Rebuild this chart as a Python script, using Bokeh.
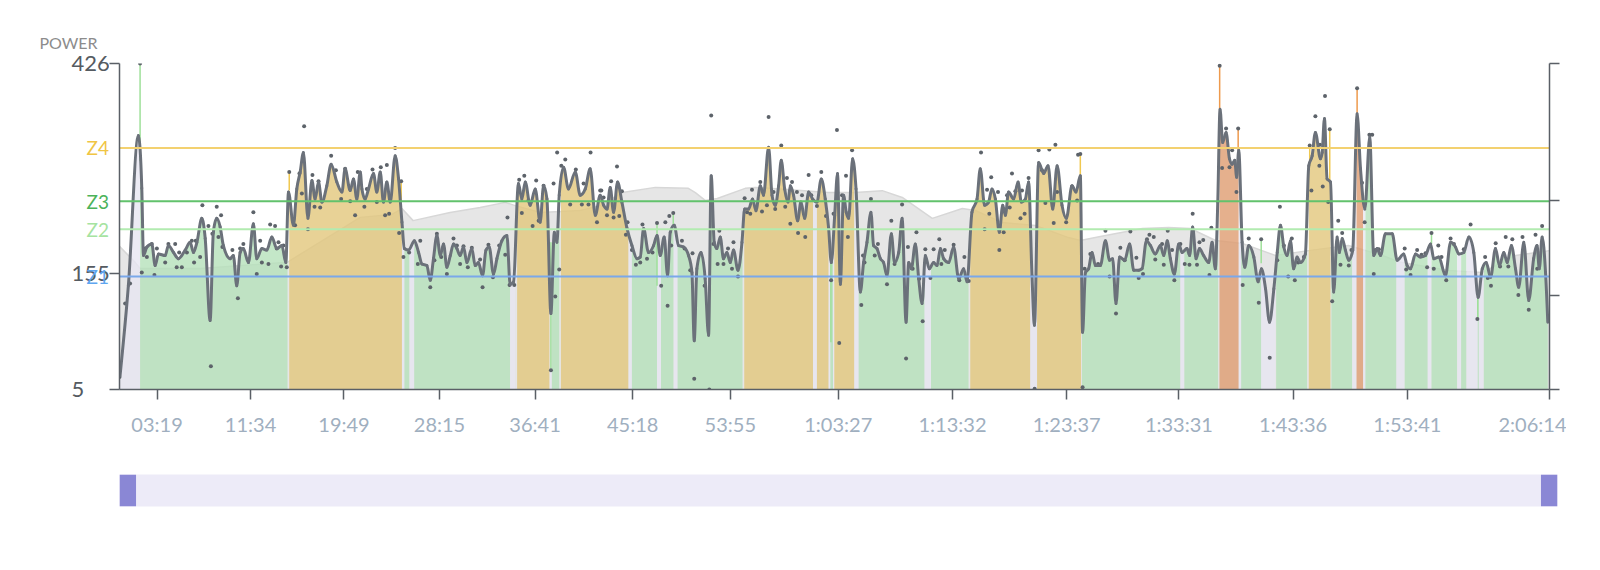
import numpy as np
from bokeh.plotting import figure
from bokeh.models import Range1d, LinearAxis, FixedTicker, BoxAnnotation, Span
from bokeh.layouts import column, row
from bokeh.core.properties import value
from bokeh.embed import file_html
from bokeh.resources import INLINE

# ---------------- data ----------------
line_t = [3, 47, 100, 118, 127, 145, 171, 189, 206, 242, 259, 286, 312, 348, 374, 392, 410, 436, 454, 480, 497, 515, 533, 550, 586, 603, 621, 639, 656, 683, 709, 727, 754, 780, 807, 833, 860, 881, 895, 921, 939, 957, 974, 998, 1019, 1036, 1054, 1072, 1098, 1121, 1151, 1178, 1195, 1222, 1239, 1257, 1275,
          1284, 1301, 1319, 1345, 1363, 1381, 1398, 1416, 1434, 1460, 1478, 1496, 1509, 1531, 1562, 1584, 1602, 1628, 1646, 1663, 1681, 1699, 1716, 1734, 1752, 1769, 1787, 1804, 1822, 1840, 1866, 1884, 1901, 1923, 1941, 1958, 1981, 1999, 2025, 2052, 2069, 2087, 2113, 2131, 2149, 2175, 2202, 2228, 2246, 2264, 2285, 2303, 2317, 2329, 2352, 2378, 2414, 2440, 2467, 2493, 2520, 2546,
          2564, 2582, 2599, 2617, 2638, 2661, 2688, 2714, 2741, 2758, 2776, 2802, 2829, 2847, 2864, 2885, 2903, 2917, 2938, 2961, 2988, 3014, 3032, 3044, 3058, 3080, 3102, 3120, 3134, 3150, 3164, 3182, 3199, 3217, 3235, 3252, 3276, 3297, 3311, 3332, 3353, 3371, 3394, 3411, 3438, 3456, 3473, 3491, 3505, 3523, 3541, 3553, 3570, 3592, 3609, 3629, 3650, 3671, 3694, 3717, 3738, 3756, 3770, 3788, 3803, 3818,
          3835, 3849, 3862, 3883, 3901, 3924, 3941, 3959, 3980, 3994, 4012, 4030, 4047, 4065, 4088, 4105, 4127, 4145, 4166, 4180, 4194, 4215, 4233, 4251, 4268, 4289, 4312, 4330, 4348, 4365, 4392, 4418, 4445, 4471, 4489, 4515, 4542, 4559, 4582, 4603, 4621, 4639, 4660, 4678, 4692, 4709, 4736, 4759, 4777, 4798, 4815, 4833, 4846, 4868, 4895, 4918, 4943, 4966, 4992, 5015, 5045, 5066, 5089,
          5101, 5116, 5133, 5151, 5169, 5195, 5222, 5244, 5260, 5278, 5297, 5324, 5350, 5372, 5398, 5416, 5439, 5460, 5486, 5513, 5531, 5549, 5566, 5587, 5610, 5628, 5654, 5668, 5684, 5702, 5720, 5742, 5769, 5787, 5804, 5817, 5829, 5843, 5861, 5879, 5893, 5907, 5917, 5928, 5946, 5960, 5981, 6008, 6031, 6048, 6070, 6091, 6114, 6132, 6149, 6167, 6184, 6202, 6219, 6237, 6255, 6281, 6299, 6317, 6334, 6361,
          6370, 6382, 6396, 6414, 6431, 6449, 6461, 6476, 6493, 6511, 6532, 6555, 6573, 6596, 6622, 6643, 6661, 6679, 6705, 6741, 6767, 6802, 6820, 6838, 6864, 6891, 6917, 6944, 6961, 6988, 7023, 7050, 7076, 7094, 7120, 7147, 7173, 7196, 7218, 7239, 7262, 7288, 7309, 7332, 7350, 7372, 7394, 7411, 7438, 7464, 7490, 7508, 7520, 7535, 7553, 7565]
line_p = [23, 139, 333, 265, 178, 189, 193, 165, 180, 178, 191, 182, 174, 185, 195, 182, 195, 226, 200, 94, 208, 226, 215, 191, 174, 178, 139, 182, 187, 169, 219, 174, 187, 185, 202, 187, 191, 169, 260, 217, 264, 286, 311, 226, 275, 251, 273, 247, 268, 296, 273, 260, 290, 262, 277, 251, 286,
          264, 251, 264, 284, 260, 286, 247, 273, 247, 307, 277, 221, 187, 185, 197, 182, 167, 165, 146, 174, 204, 178, 193, 163, 178, 193, 187, 178, 189, 169, 187, 165, 169, 152, 185, 189, 154, 174, 197, 204, 141, 144, 271, 251, 273, 243, 264, 221, 268, 251, 103, 208, 195, 256, 292, 264, 286, 256, 264, 290, 230, 256,
          243, 238, 266, 234, 273, 247, 213, 191, 174, 176, 213, 182, 191, 204, 178, 202, 152, 208, 217, 191, 189, 178, 156, 68, 161, 182, 148, 75, 281, 195, 187, 202, 174, 182, 169, 185, 159, 195, 238, 238, 251, 236, 268, 256, 318, 256, 243, 268, 301, 264, 247, 268, 256, 223, 247, 226, 260, 251, 247, 277, 251, 213, 169, 230, 284, 141,
          256, 234, 226, 303, 264, 131, 169, 195, 234, 191, 187, 174, 169, 152, 206, 169, 182, 226, 92, 169, 161, 193, 148, 116, 178, 161, 169, 165, 187, 174, 169, 189, 148, 161, 144, 234, 251, 290, 243, 247, 264, 251, 208, 243, 230, 260, 251, 273, 247, 251, 273, 152, 88, 298, 284, 294, 238, 294, 243, 226, 268, 260, 281,
          79, 156, 161, 182, 165, 165, 197, 172, 174, 116, 176, 172, 193, 159, 159, 161, 197, 191, 180, 191, 178, 197, 174, 154, 193, 182, 187, 178, 215, 174, 187, 178, 169, 195, 161, 247, 367, 324, 337, 303, 296, 301, 279, 314, 195, 163, 191, 176, 144, 161, 135, 92, 135, 182, 217, 189, 178, 197, 161, 176, 169, 180, 294, 307, 337, 303,
          311, 355, 277, 273, 131, 202, 182, 200, 185, 172, 185, 361, 290, 238, 331, 178, 187, 178, 206, 206, 172, 180, 165, 161, 180, 176, 178, 193, 174, 176, 152, 195, 189, 180, 182, 202, 182, 124, 161, 169, 150, 187, 165, 182, 169, 191, 161, 137, 195, 120, 174, 191, 161, 202, 156, 92]

dot_t = [0, 30, 56, 109, 118, 136, 145, 171, 185, 198, 242, 259, 295, 303, 316, 330, 357, 383, 395, 404, 427, 439, 471, 484, 492, 515, 524, 538, 545, 598, 627, 639, 656, 709, 727, 745, 754, 789, 798, 824, 833, 842, 856, 868, 886, 899, 930, 953, 966, 978, 998, 1022, 1033, 1054, 1063, 1121, 1146, 1174, 1195, 1222, 1248, 1262,
         1297, 1310, 1340, 1363, 1384, 1407, 1416, 1428, 1460, 1492, 1481, 1504, 1534, 1580, 1593, 1646, 1668, 1681, 1704, 1734, 1769, 1787, 1804, 1822, 1845, 1866, 1910, 1923, 1954, 1978, 2011, 2043, 2055, 2066, 2091, 2117, 2131, 2144, 2166, 2188, 2207, 2220, 2246, 2285, 2308, 2299, 2318, 2329, 2340, 2361, 2387, 2417, 2449, 2458, 2484, 2495, 2529, 2546,
         2552, 2564, 2582, 2604, 2617, 2635, 2647, 2661, 2682, 2691, 2714, 2735, 2758, 2770, 2794, 2823, 2847, 2869, 2891, 2903, 2912, 2922, 2933, 2979, 2993, 3035, 3023, 3044, 3099, 3124, 3134, 3146, 3177, 3168, 3199, 3223, 3244, 3252, 3276, 3311, 3324, 3341, 3350, 3394, 3403, 3429, 3438, 3464, 3473, 3505, 3526, 3535, 3553, 3562, 3588, 3594, 3615, 3632, 3650, 3664, 3694, 3717, 3742, 3769, 3782, 3800, 3812,
         3827, 3848, 3858, 3880, 3929, 3938, 3946, 3980, 4000, 4017, 4065, 4088, 4105, 4145, 4166, 4176, 4201, 4221, 4236, 4254, 4268, 4295, 4312, 4342, 4353, 4371, 4418, 4448, 4475, 4498, 4563, 4582, 4595, 4607, 4617, 4653, 4660, 4683, 4701, 4715, 4727, 4745, 4772, 4780, 4794, 4815, 4847, 4868, 4886, 4904, 4925, 4948, 4957, 4966, 5014, 5045, 5077,
         5089, 5072, 5101, 5112, 5142, 5183, 5222, 5244, 5278, 5301, 5324, 5354, 5386, 5398, 5421, 5442, 5455, 5478, 5486, 5522, 5531, 5552, 5575, 5587, 5619, 5642, 5667, 5684, 5707, 5720, 5740, 5773, 5783, 5827, 5840, 5861, 5879, 5893, 5916, 5925, 5949, 5981, 6034, 6047, 6092, 6132, 6146, 6167, 6190, 6209, 6225, 6243, 6273, 6304, 6313, 6334,
         6358, 6385, 6355, 6373, 6410, 6402, 6423, 6455, 6467, 6476, 6511, 6525, 6555, 6581, 6595, 6620, 6635, 6643, 6652, 6670, 6807, 6815, 6838, 6873, 6896, 6917, 6926, 6949, 6961, 6985, 7002, 7027, 7050, 7068, 7120, 7156, 7192, 7233, 7247, 7264, 7289, 7312, 7342, 7356, 7377, 7409, 7431, 7464, 7500, 7509, 7535]
dot_p = [21, 116, 142, 426, 156, 187, 176, 193, 153, 187, 169, 193, 193, 163, 182, 163, 182, 197, 169, 197, 176, 243, 216, 35, 206, 241, 202, 230, 189, 185, 123, 187, 193, 234, 154, 197, 169, 167, 218, 216, 187, 195, 164, 191, 163, 286, 217, 284, 258, 345, 212, 282, 241, 274, 240, 307, 288, 251, 290, 248, 230, 286,
         241, 264, 289, 247, 292, 230, 295, 232, 317, 274, 207, 176, 182, 167, 197, 137, 172, 206, 176, 154, 200, 191, 167, 190, 163, 188, 173, 137, 192, 150, 191, 179, 227, 140, 140, 276, 233, 281, 249, 216, 275, 223, 268, 30, 125, 271, 311, 160, 294, 302, 244, 289, 244, 271, 244, 311, 221, 262,
         262, 253, 230, 274, 227, 293, 229, 261, 205, 221, 185, 166, 169, 218, 174, 182, 220, 139, 221, 113, 229, 191, 233, 197, 187, 181, 159, 19, 139, 5, 359, 193, 210, 167, 167, 187, 161, 195, 151, 252, 234, 232, 263, 273, 235, 243, 357, 260, 238, 320, 241, 278, 219, 273, 260, 207, 256, 202, 282, 256, 242, 286, 229, 146, 232, 340, 65,
         256, 281, 202, 314, 114, 178, 169, 251, 178, 193, 141, 223, 167, 244, 45, 189, 161, 208, 148, 93, 186, 149, 186, 199, 167, 185, 192, 146, 176, 145, 311, 212, 263, 232, 279, 260, 185, 208, 256, 240, 284, 261, 226, 262, 232, 278, 6, 314, 288, 246, 315, 220, 321, 260, 221, 267, 308,
         309, 249, 8, 161, 180, 167, 210, 151, 103, 188, 172, 209, 175, 149, 154, 199, 205, 202, 173, 193, 166, 210, 185, 146, 193, 167, 166, 232, 166, 195, 198, 153, 214, 423, 291, 342, 292, 314, 260, 342, 140, 200, 117, 199, 46, 172, 241, 191, 151, 200, 146, 169, 176, 320, 262, 358,
         321, 384, 294, 267, 341, 247, 119, 223, 166, 207, 165, 185, 394, 272, 221, 334, 334, 154, 185, 186, 187, 160, 153, 185, 179, 181, 163, 207, 161, 191, 176, 146, 200, 193, 186, 218, 96, 176, 149, 139, 194, 164, 202, 164, 199, 127, 202, 108, 205, 161, 216]

# elevation (right axis, relative units)
elev_t = [0, 83, 109, 427, 888, 1275, 1444, 1496, 1555, 1751, 1910, 2043, 2096, 2229, 2440, 2546, 2663, 2838, 3013, 3050, 3102, 3166, 3314, 3367, 3553, 3754, 3897, 4040, 4146, 4305, 4464, 4533, 4676, 4851, 5026, 5089, 5195, 5418, 5556, 5672, 5805, 5947, 6122, 6297, 6509, 6689, 6785, 7039, 7219, 7394, 7574]
elev_v = [43.9, 39.0, 37.1, 37.1, 39.0, 52.8, 53.7, 55.5, 51.8, 54.3, 55.8, 57.4, 56.4, 54.3, 54.9, 56.4, 60.4, 62.0, 61.7, 60.4, 58.0, 58.6, 61.7, 62.0, 61.3, 60.4, 60.4, 61.0, 58.9, 52.5, 55.5, 54.9, 51.2, 50.3, 46.6, 45.7, 46.9, 49.4, 49.7, 49.4, 45.7, 44.8, 41.1, 42.6, 44.2, 41.1, 39.0, 36.5, 35.9, 41.1, 42.6]

# zone segments of the fill
seg_start = [0, 109, 899, 1496, 1509, 1536, 1561, 2069, 2106, 2278, 2290, 2338, 2696, 2714, 2847, 2868, 2935, 2956, 3309, 3673, 3694, 3756, 3765, 3779, 3786, 3892, 3915, 4264, 4298, 4506, 4824, 4860, 5098, 5619, 5640, 5826, 5928, 5941, 6047, 6126, 6299, 6419, 6529, 6552, 6587, 6599, 6763, 6807, 6929, 6949, 7085, 7106, 7134, 7194, 7200, 7226]
seg_end = [109, 890, 1496, 1509, 1536, 1561, 2069, 2096, 2278, 2290, 2329, 2696, 2714, 2847, 2868, 2935, 2956, 3300, 3673, 3694, 3756, 3765, 3779, 3786, 3892, 3915, 4264, 4298, 4497, 4824, 4860, 5093, 5619, 5640, 5819, 5928, 5941, 6047, 6122, 6290, 6414, 6529, 6552, 6587, 6599, 6763, 6807, 6929, 6949, 7085, 7106, 7134, 7194, 7200, 7226, 7565]
seg_zone = ["rest", "endurance", "tempo", "rest", "endurance", "rest", "endurance", "rest", "tempo", "rest", "endurance", "tempo", "rest", "endurance", "rest", "endurance", "rest", "endurance", "tempo", "rest", "tempo", "rest", "endurance", "rest", "tempo", "rest", "endurance", "rest", "endurance", "tempo", "rest", "tempo", "endurance", "rest", "endurance", "vo2", "rest", "endurance", "rest", "endurance", "tempo", "endurance", "rest", "vo2", "rest", "endurance", "rest", "endurance", "rest", "endurance", "rest", "endurance", "rest", "endurance", "rest", "endurance"]

# raw-value spikes at zone boundaries
spike_t = [109, 899, 1492, 2285, 2847, 2933, 3768, 5089, 5827, 5925, 6047, 6304, 6410, 6555, 6949, 7194]
spike_lo = [300, 262, 247, 32, 139, 215, 66, 281, 367, 314, 168, 294, 273, 361, 193, 96]
spike_hi = [426, 286, 274, 195, 221, 233, 169, 309, 423, 342, 199, 320, 341, 394, 207, 124]
spike_zone = ["endurance", "tempo", "tempo", "endurance", "endurance", "endurance", "endurance", "tempo", "vo2", "vo2", "endurance", "tempo", "tempo", "vo2", "endurance", "endurance"]

zone_names = ["Z1", "Z2", "Z3", "Z4"]
zone_values = [151, 212, 248, 317]

x_ticks = [199, 694, 1189, 1695, 2201, 2718, 3235, 3807, 4412, 5017, 5611, 6216, 6821, 7574]
x_tick_labels = ["03:19", "11:34", "19:49", "28:15", "36:41", "45:18", "53:55", "1:03:27", "1:13:32", "1:23:37", "1:33:31", "1:43:36", "1:53:41", "2:06:14"]
y_ticks = [5, 155, 426]
y_tick_labels = ["5", "155", "426"]
elev_ticks = [0, 28.8, 58, 100]

# ---------------- layout / styles ----------------
FONT = "Lato"
fill_colors = {"rest": "#e7e6f1", "endurance": "#b5e1ba", "tempo": "#e2c77c", "vo2": "#de9c70"}
spike_colors = {"endurance": "#9fe09a", "tempo": "#f0c850", "vo2": "#ee9a4d"}
zone_line_colors = ["#7aa8ea", "#b2ebb0", "#62c26c", "#f3d170"]
zone_label_colors = ["#5ea6f0", "#a6e3a1", "#4cb35a", "#f0c544"]
AXIS = "#5a5f66"

TOTAL_W = 1566
LABEL_W = 109      # left strip holding the y labels
MAIN_H = 448
TOP, BOTTOM = 63, 59
FRAME_H = MAIN_H - TOP - BOTTOM
Y0, Y1 = 5, 426

t_arr = np.array(line_t, dtype=float)
p_arr = np.array(line_p, dtype=float)

p = figure(width=TOTAL_W - LABEL_W, height=MAIN_H, x_range=Range1d(0, 7574), y_range=Range1d(Y0, Y1),
           output_backend="svg", toolbar_location=None,
           min_border_left=10, min_border_right=17, min_border_top=TOP, min_border_bottom=BOTTOM)
p.extra_y_ranges = {"elev": Range1d(0, 100)}
p.outline_line_color = None
p.grid.grid_line_color = None

# elevation area
p.varea(x=elev_t, y1=0, y2=elev_v, y_range_name="elev", fill_color="#e6e6e6", fill_alpha=1)
p.line(elev_t, elev_v, y_range_name="elev", line_color="#d7d7d7", line_width=1.5)

# zone fills under the power line
for s_, e_, z in zip(seg_start, seg_end, seg_zone):
    inner = t_arr[(t_arr > s_) & (t_arr < e_)]
    xs = np.concatenate([[s_], inner, [e_]])
    ys = np.interp(xs, t_arr, p_arr)
    p.varea(x=xs, y1=Y0, y2=ys, fill_color=fill_colors[z], fill_alpha=0.8)

# spikes
p.segment(x0=spike_t, x1=spike_t, y0=spike_lo, y1=spike_hi,
          line_color=[spike_colors[z] for z in spike_zone], line_width=1.5)

# zone lines
for v, c in zip(zone_values, zone_line_colors):
    p.add_layout(Span(location=v, dimension="width", line_color=c, line_width=2, level="glyph"))

# raw points
p.scatter(dot_t, dot_p, size=4, color="#5d636a", line_color=None)

# smoothed line drawn as monotone cubic Bezier pieces through the points
h = np.diff(t_arr)
sl = np.diff(p_arr) / h
m = np.zeros_like(t_arr)
for i in range(1, len(t_arr) - 1):
    s0, s1 = sl[i - 1], sl[i]
    if s0 * s1 > 0:
        pp = (s0 * h[i] + s1 * h[i - 1]) / (h[i - 1] + h[i])
        m[i] = 2 * np.sign(s0) * min(abs(s0), abs(s1), 0.5 * abs(pp))
m[0] = (3 * sl[0] - m[1]) / 2
m[-1] = (3 * sl[-1] - m[-2]) / 2
p.bezier(x0=t_arr[:-1], y0=p_arr[:-1], x1=t_arr[1:], y1=p_arr[1:],
         cx0=t_arr[:-1] + h / 3, cy0=p_arr[:-1] + m[:-1] * h / 3,
         cx1=t_arr[1:] - h / 3, cy1=p_arr[1:] - m[1:] * h / 3,
         line_color="#6b717a", line_width=3, line_cap="round")

# axes
xa = p.xaxis[0]
xa.ticker = FixedTicker(ticks=x_ticks)
xa.major_label_overrides = {t: l for t, l in zip(x_ticks, x_tick_labels)}
xa.minor_tick_line_color = None
xa.major_tick_in = 0
xa.major_tick_out = 10
xa.axis_line_color = AXIS
xa.axis_line_width = 1.5
xa.major_tick_line_color = AXIS
xa.major_tick_line_width = 1.5
xa.major_label_text_font = FONT
xa.major_label_text_font_size = "20px"
xa.major_label_text_color = "#a0afbf"
xa.major_label_standoff = 12

ya = p.yaxis[0]
ya.ticker = FixedTicker(ticks=y_ticks)
ya.major_label_overrides = {v: "" for v in y_ticks}
ya.minor_tick_line_color = None
ya.major_tick_in = 0
ya.major_tick_out = 10
ya.major_label_standoff = 0
ya.axis_line_color = AXIS
ya.axis_line_width = 1.5
ya.major_tick_line_color = AXIS
ya.major_tick_line_width = 1.5

ra = LinearAxis(y_range_name="elev", ticker=FixedTicker(ticks=elev_ticks),
                major_label_overrides={v: "" for v in elev_ticks})
ra.minor_tick_line_color = None
ra.major_tick_in = 0
ra.major_tick_out = 10
ra.axis_line_color = AXIS
ra.axis_line_width = 1.5
ra.major_tick_line_color = AXIS
ra.major_tick_line_width = 1.5
p.add_layout(ra, "right")

# left strip: y tick labels, zone labels and the "POWER" title (same vertical scale as the plot)
k = (Y1 - Y0) / FRAME_H
lf = figure(width=LABEL_W, height=MAIN_H, x_range=Range1d(0, LABEL_W),
            y_range=Range1d(Y0 - BOTTOM * k, Y1 + TOP * k),
            output_backend="svg", toolbar_location=None,
            x_axis_location=None, y_axis_location=None, min_border=0)
if "frame_align" in lf.properties():
    lf.frame_align = False
lf.outline_line_color = None
lf.grid.visible = False
lf.text(x=[71] * len(y_ticks), y=y_ticks, text=y_tick_labels, text_align="left", text_baseline="middle",
        text_font=value(FONT), text_font_size="22px", text_color="#555b61")
lf.text(x=[LABEL_W - 0.5] * len(zone_values), y=zone_values, text=zone_names, text_align="right",
        text_baseline="middle", text_font=value(FONT), text_font_size="19px", text_color=zone_label_colors)
lf.text(x=[39], y=[Y1 + 21 * k], text=["POWER"], text_align="left", text_baseline="middle",
        text_font=value(FONT), text_font_size="16px", text_color="#8c8c8c")

# scroll bar
s = figure(width=TOTAL_W, height=75, x_range=Range1d(0, 1), y_range=Range1d(0, 1),
           output_backend="svg", toolbar_location=None,
           x_axis_location=None, y_axis_location=None,
           min_border_left=LABEL_W + 10, min_border_right=9, min_border_top=26, min_border_bottom=17,
           background_fill_color="#edebf8")
s.outline_line_color = None
s.grid.visible = False
s.add_layout(BoxAnnotation(left=0, right=0.0115, fill_color="#8a87d5", fill_alpha=1, line_color=None))
s.add_layout(BoxAnnotation(left=0.9885, right=1, fill_color="#8a87d5", fill_alpha=1, line_color=None))

layout = column(row(lf, p, spacing=0), s, spacing=0)
open("out.html", "w").write(file_html(layout, INLINE))
